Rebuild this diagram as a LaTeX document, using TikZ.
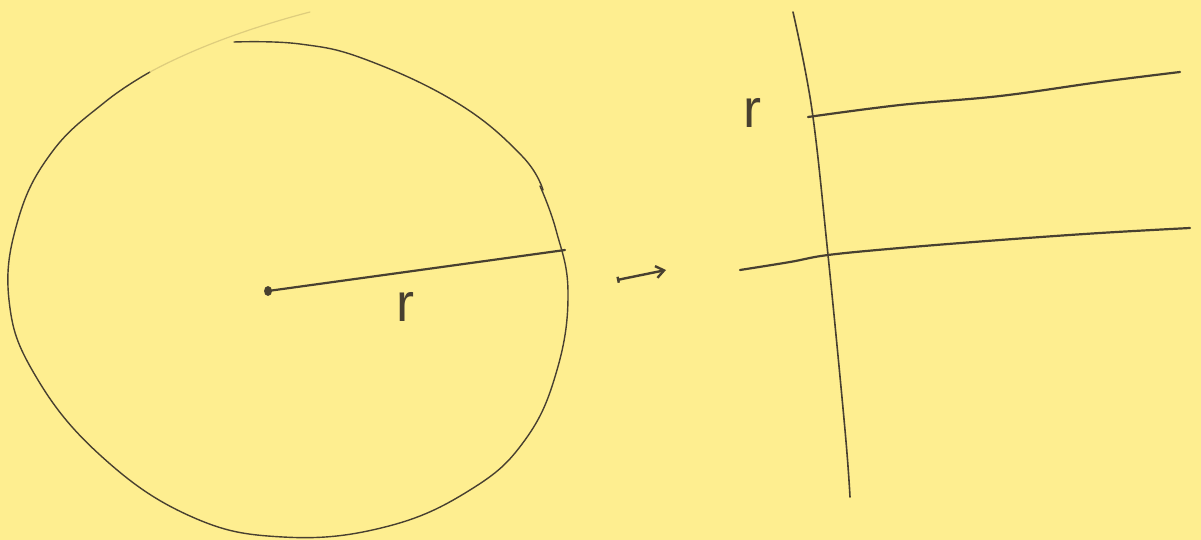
\documentclass[tikz,border=0pt]{standalone}
\usepackage{fontspec}
\setmainfont{Liberation Sans}
\usetikzlibrary{arrows.meta}
\definecolor{paper}{RGB}{254,238,144}
\definecolor{ink}{RGB}{72,64,48}
\definecolor{faint}{RGB}{222,205,125}
\begin{document}
\begin{tikzpicture}[x=1pt,y=-1pt,
  pen/.style={draw=ink,line width=1.4pt,line cap=round,line join=round},
  thick pen/.style={draw=ink,line width=2.2pt,line cap=round},
  lbl/.style={font=\fontsize{54}{54}\selectfont\color{ink},inner sep=0pt}]
\fill[paper] (0,0) rectangle (1201,540);
\useasboundingbox (0,0) rectangle (1201,540);
% circle (hand-drawn)
\draw[pen] plot[smooth,tension=0.7] coordinates {(234,42) (300,44) (367,60) (459,104) (522,156) (543,190)};
\draw[pen] plot[smooth,tension=0.7] coordinates {(540,186) (556,230) (568,292) (557,370) (525,440) (470,490) (385,527) (283,537) (190,516) (100,455) (35,375) (9,300) (18,220) (52,152) (105,102) (150,72)};
\draw[draw=faint,line width=1.2pt,line cap=round] (150,72) .. controls (200,45) and (260,25) .. (310,12);
% centre and radius
\coordinate (c) at (268,291);
\coordinate (rim) at (565,250);
\fill[ink] (c) ellipse (4pt and 5pt);
\draw[thick pen] (c) -- (rim);
\node[lbl] (r1) at (405,307) {r};
% maps-to arrow
\coordinate (a0) at (617,280);
\coordinate (a1) at (666,270);
\draw[pen,line width=2.4pt,{Bar[width=6pt]}-{Straight Barb[length=8pt,width=12pt]}] (a0) -- (a1);
% axes on the right
\coordinate (vtop) at (793,12);
\coordinate (vbot) at (850,497);
\draw[pen,line width=1.6pt] plot[smooth,tension=0.6] coordinates {(vtop) (812,110) (828,255) (845,430) (vbot)};
\coordinate (u0) at (808,117);
\coordinate (u1) at (1180,72);
\draw[thick pen] plot[smooth,tension=0.6] coordinates {(u0) (900,105) (1000,96) (1100,82) (u1)};
\coordinate (l0) at (740,270);
\coordinate (l1) at (1190,228);
\draw[thick pen] plot[smooth,tension=0.6] coordinates {(l0) (790,262) (828,255) (900,248) (1000,240) (1100,233) (l1)};
\node[lbl] (r2) at (752,113) {r};
\end{tikzpicture}
\end{document}
